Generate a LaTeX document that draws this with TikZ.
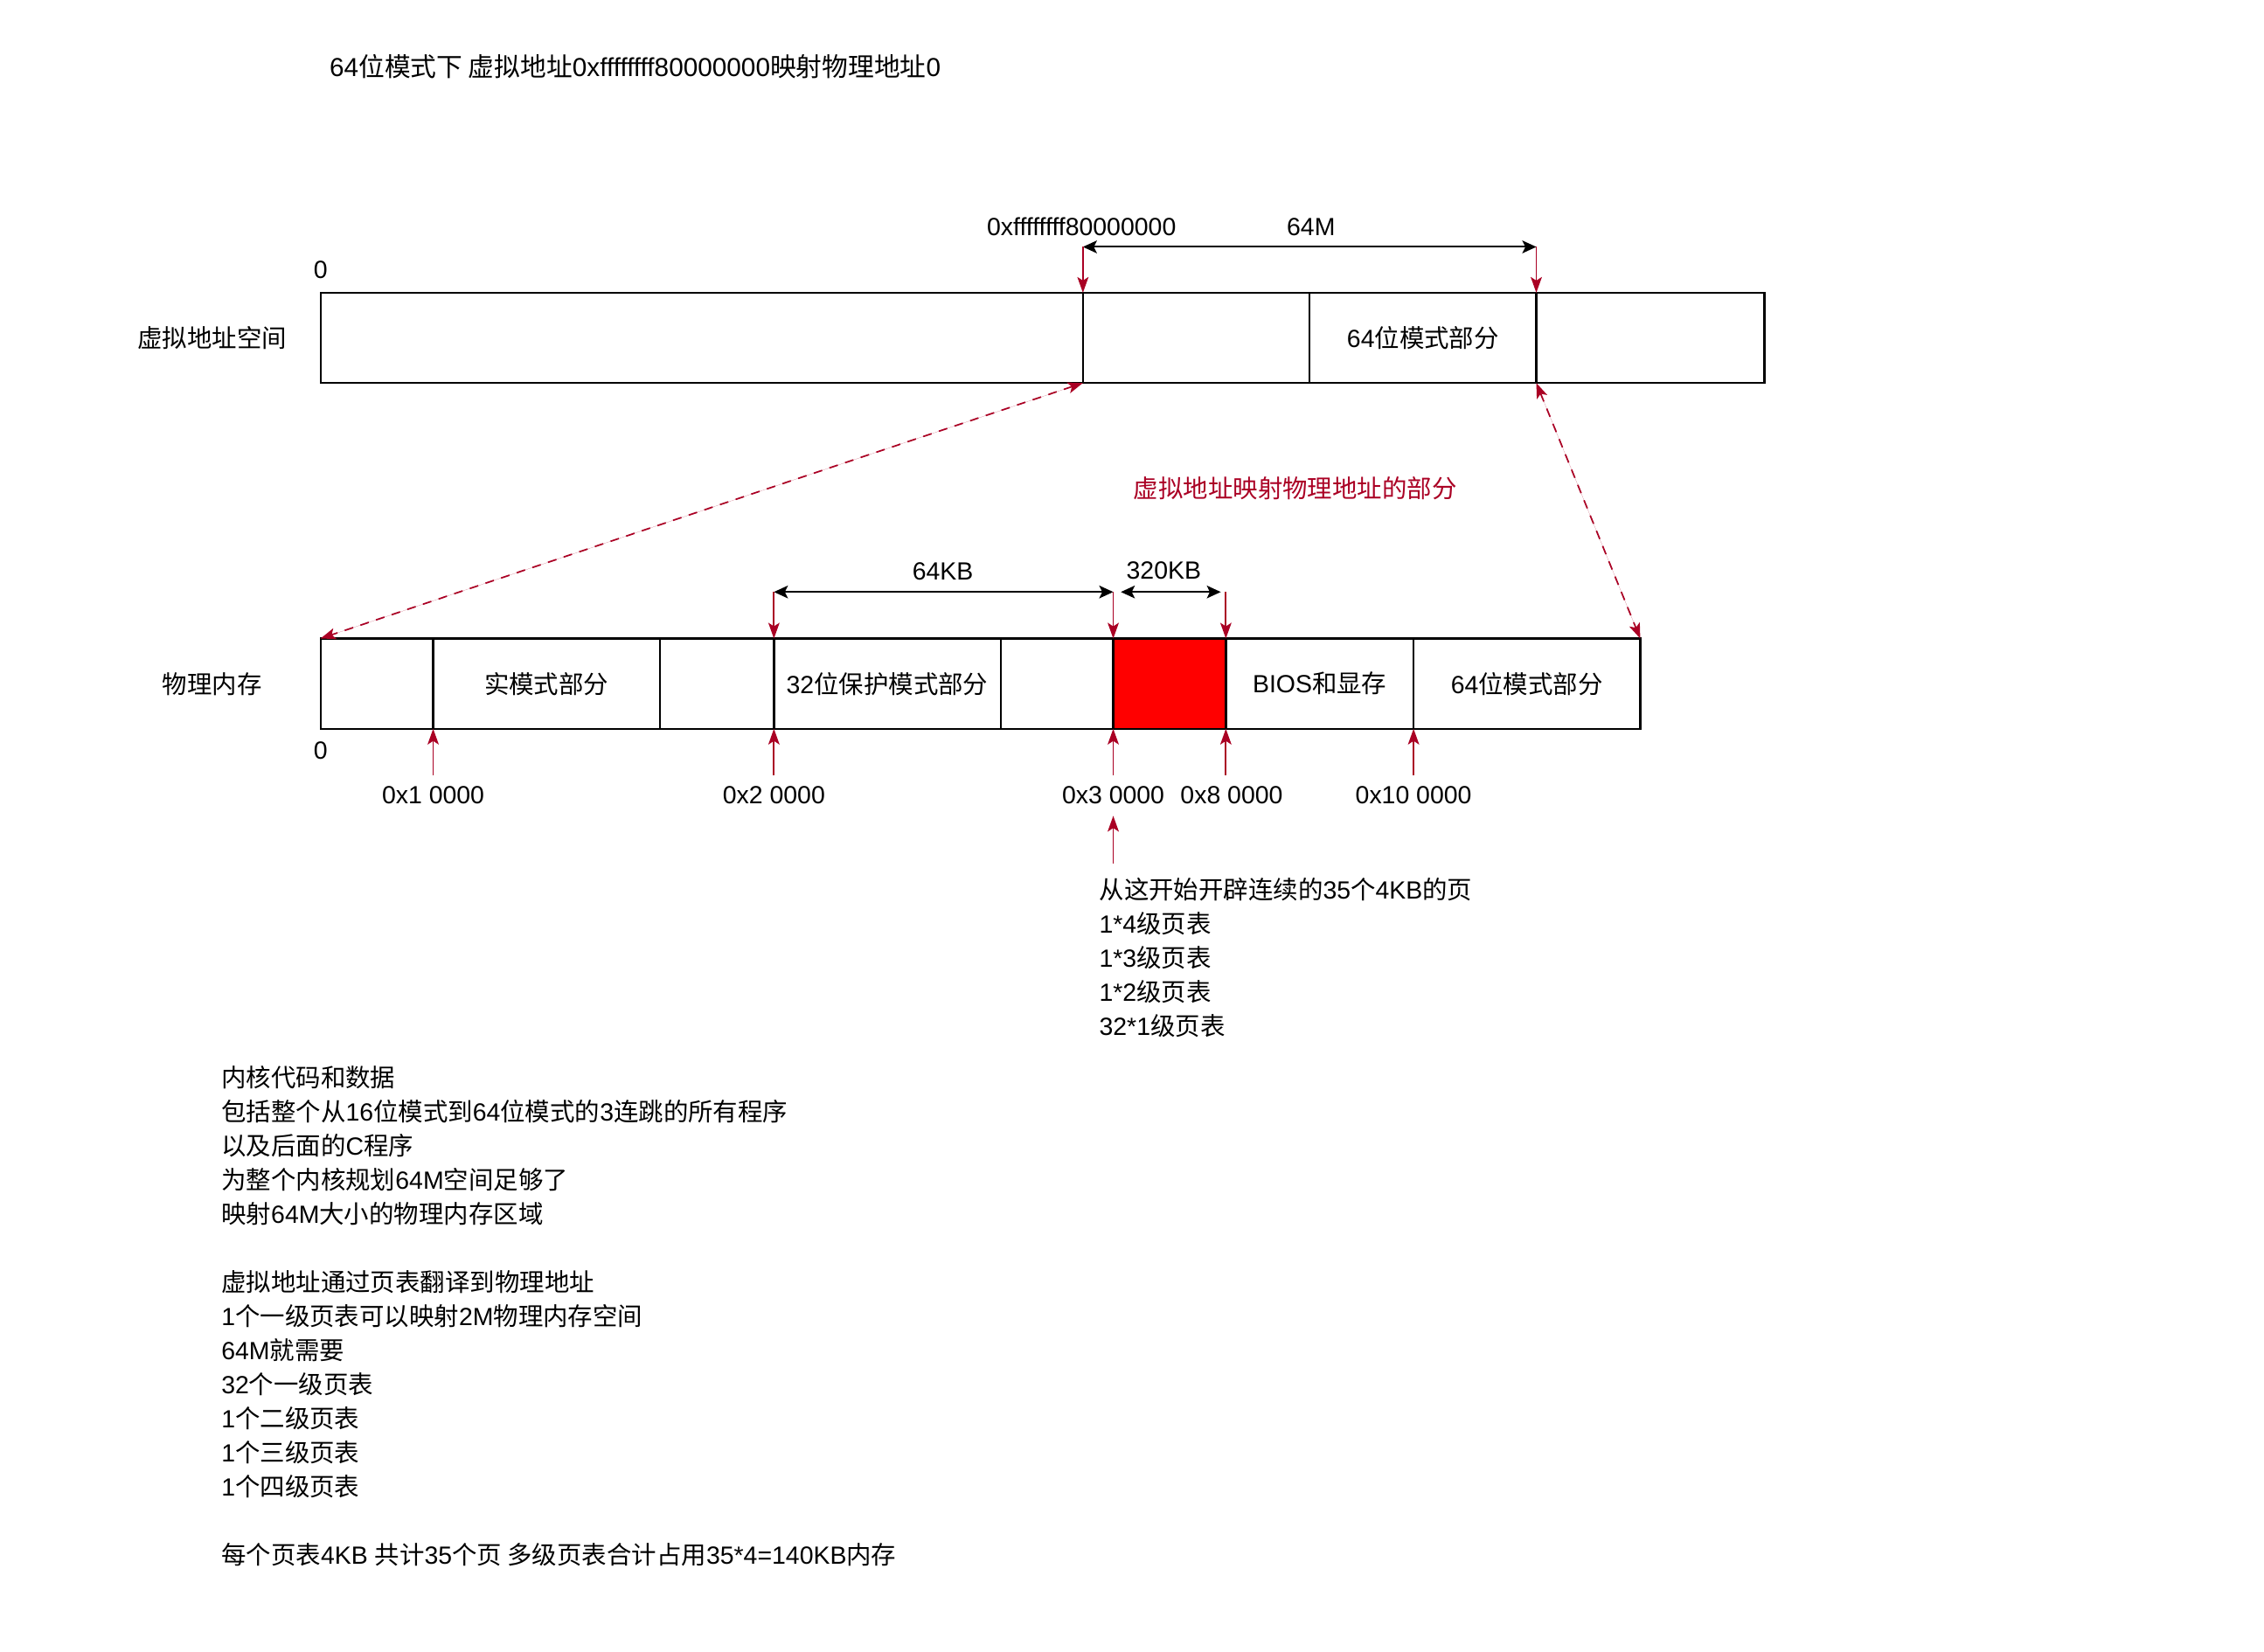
\documentclass[tikz,border=0pt]{standalone}
\usepackage{fontspec}
\setmainfont{Liberation Sans}
\newfontfamily\cjkfont{Noto Sans CJK SC}
\newfontfamily\latinfont{Liberation Sans}
\XeTeXinterchartokenstate=1
\newXeTeXintercharclass\cjkclass
\count255="3000
\loop\ifnum\count255<"A000
  \XeTeXcharclass\count255=\cjkclass
  \advance\count255 by 1
\repeat
\XeTeXinterchartoks 0 \cjkclass={\cjkfont}
\XeTeXinterchartoks 4095 \cjkclass={\cjkfont}
\XeTeXinterchartoks \cjkclass 0={\latinfont}
\usepackage{tikz}
\usetikzlibrary{positioning,arrows.meta,calc}
\definecolor{crimson}{RGB}{170,0,36}

\begin{document}
\begin{tikzpicture}[x=0.02cm,y=-0.02cm,font=\fontsize{9.8pt}{11.8pt}\selectfont,
    cell/.style={draw,line width=0.8pt,minimum height=1.25cm,inner sep=0pt,outer sep=0pt,anchor=west},
    redarr/.style={-{Stealth[length=6.2pt,width=4.4pt,inset=1.4pt]},draw=crimson,line width=0.65pt},
    dimarr/.style={{Stealth[length=5.5pt,width=5pt,inset=1.2pt]}-{Stealth[length=5.5pt,width=5pt,inset=1.2pt]},line width=0.7pt},
    linkarr/.style={{Stealth[length=6pt,width=4.4pt,inset=1.4pt]}-{Stealth[length=6pt,width=4.4pt,inset=1.4pt]},draw=crimson,fill=crimson,line width=0.6pt,dash pattern=on 3.5pt off 3pt},
    textline/.style={anchor=west,inner sep=0pt}]
    \useasboundingbox (0,0) rectangle (1568,1144);

    \node[textline,font=\fontsize{10.25pt}{12pt}\selectfont] (title) at (228,46) {64位模式下 虚拟地址0xffffffff80000000映射物理地址0};

    \foreach \a/\b/\nm/\txt in {222/750/v1/,750/907/v2/,907/1064/v3/64位模式部分,1064/1222/v4/}
      \node[cell,minimum width={(\b-\a)*0.02cm}] (\nm) at (\a,234) {\txt};
    \node (vlabel) at (147,234) {虚拟地址空间};
    \node (vzero) at (222,187) {0};
    \node (vaddr) at (749,157) {0xffffffff80000000};
    \node (vsize) at (908,157) {64M};
    \coordinate (vs) at (750,171);
    \coordinate (ve) at (1064,171);
    \draw[dimarr] (vs) -- (ve);
    \draw[redarr] (vs) -- (v2.north west);
    \draw[redarr] (ve) -- (v4.north west);

    \foreach \a/\b/\nm/\fc/\txt in {222/300/p1/white/,300/457/p2/white/实模式部分,457/536/p3/white/,
        536/693/p4/white/32位保护模式部分,693/771/p5/white/,771/849/p6/red/,849/979/p7/white/BIOS和显存,979/1136/p8/white/64位模式部分}
      \node[cell,fill=\fc,minimum width={(\b-\a)*0.02cm}] (\nm) at (\a,473.5) {\txt};
    \node (plabel) at (147,474) {物理内存};
    \node (pzero) at (222,520) {0};

    \draw[linkarr] (v2.south west) -- (p1.north west);
    \draw[linkarr] (v4.south west) -- (p8.north east);
    \node[text=crimson] (maptxt) at (897,338) {虚拟地址映射物理地址的部分};

    \coordinate (k2) at (536,410);
    \coordinate (k3) at (771,410);
    \coordinate (k8) at (849,410);
    \node (sz64) at (653,396) {64KB};
    \node (sz320) at (806,395) {320KB};
    \draw[dimarr] (k2) -- (k3);
    \draw[dimarr,shorten <=3pt,shorten >=2pt] (k3) -- (k8);
    \draw[redarr] (k2) -- (p4.north west);
    \draw[redarr] (k3) -- (p6.north west);
    \draw[redarr] (k8) -- (p7.north west);

    \foreach \x/\nm/\lx/\txt in {300/p2/300/0x1 0000,536/p4/536/0x2 0000,771/p6/771/0x3 0000,849/p7/853/0x8 0000,979/p8/979/0x10 0000}{
      \node (a\nm) at (\lx,551) {\txt};
      \coordinate (b\nm) at (\x,537);
      \draw[redarr] (b\nm) -- (\nm.south west);
    }
    \coordinate (pgsrc) at (771,598);
    \draw[redarr,shorten >=1pt] (pgsrc) -- (ap6.south);

    \foreach \k/\txt in {0/从这开始开辟连续的35个4KB的页,1/1*4级页表,2/1*3级页表,3/1*2级页表,4/32*1级页表}
      \node[textline] (pg\k) at (761,{616+23.7*\k}) {\txt};

    \foreach \k/\txt in {0/内核代码和数据,1/包括整个从16位模式到64位模式的3连跳的所有程序,2/以及后面的C程序,
        3/为整个内核规划64M空间足够了,4/映射64M大小的物理内存区域,6/虚拟地址通过页表翻译到物理地址,
        7/1个一级页表可以映射2M物理内存空间,8/64M就需要,9/32个一级页表,10/1个二级页表,11/1个三级页表,
        12/1个四级页表,14/每个页表4KB 共计35个页 多级页表合计占用35*4=140KB内存}
      \node[textline] (note\k) at (153,{746+23.65*\k}) {\txt};
\end{tikzpicture}
\end{document}
